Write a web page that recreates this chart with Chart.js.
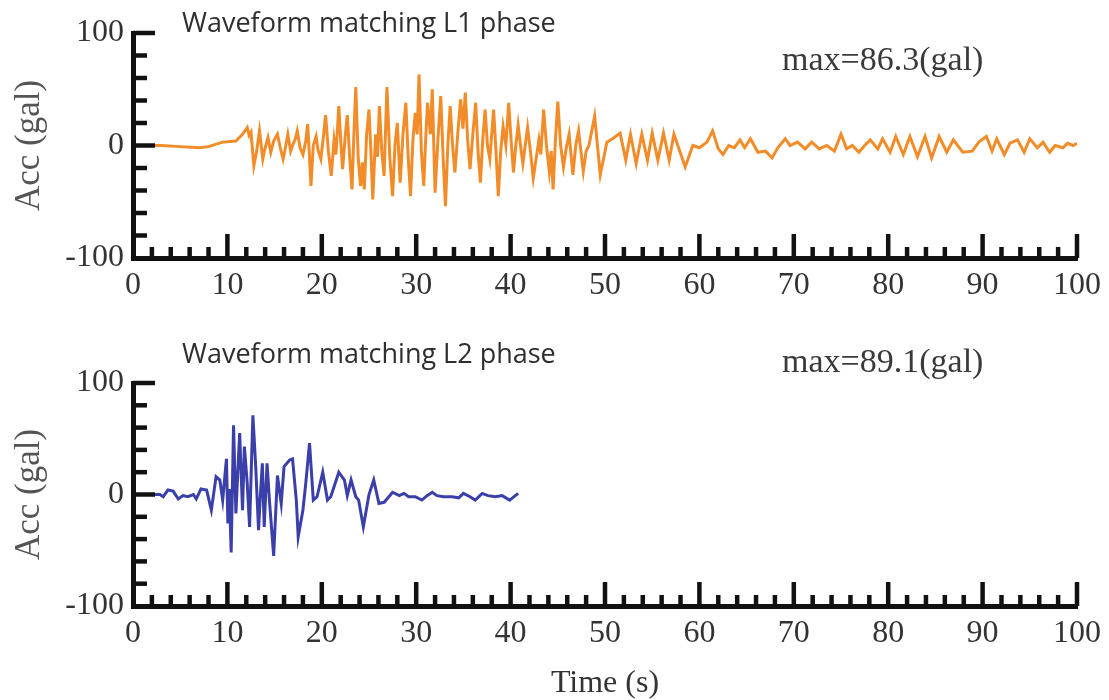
<!DOCTYPE html>
<html>
<head>
<meta charset="utf-8">
<script src="https://cdn.jsdelivr.net/npm/chart.js@4.4.1/dist/chart.umd.min.js"></script>
<style>
  body { margin: 0; background: #fff; }
  .panel { position: absolute; left: 0; }
</style>
</head>
<body>
<div class="panel" style="top:0"><canvas id="l1Chart" width="1109" height="330"></canvas></div>
<div class="panel" style="top:330px"><canvas id="l2Chart" width="1109" height="370"></canvas></div>
<script>
// L1 phase record (s, gal)
const l1Time = [0, 3, 5, 7, 8, 9.5, 10.9, 11.6, 12.1, 12.3,
  12.5, 12.8, 13.1, 13.4, 13.75, 14.0, 14.3, 14.6, 14.9, 15.3,
  15.6, 15.9, 16.1, 16.4, 16.7, 16.9, 17.2, 17.4, 17.7, 18.0,
  18.3, 18.5, 18.7, 18.85, 19.1, 19.4, 19.6, 19.9, 20.2, 20.4,
  20.7, 21.0, 21.3, 21.5, 21.8, 22.0, 22.2, 22.5, 22.7, 22.95,
  23.2, 23.4, 23.6, 23.85, 24.1, 24.3, 24.5, 24.75, 25.0, 25.2,
  25.4, 25.7, 25.9, 26.1, 26.35, 26.6, 26.9, 27.2, 27.5, 27.75,
  28.0, 28.3, 28.6, 28.9, 29.15, 29.4, 29.65, 29.9, 30.1, 30.3,
  30.55, 30.8, 31.0, 31.2, 31.5, 31.7, 32.0, 32.3, 32.6, 32.85,
  33.1, 33.35, 33.6, 33.85, 34.1, 34.4, 34.7, 34.95, 35.2, 35.45,
  35.7, 36.0, 36.3, 36.55, 36.8, 37.05, 37.3, 37.55, 37.8, 38.2,
  38.45, 38.7, 38.95, 39.2, 39.5, 39.8, 40.05, 40.3, 40.55, 40.8,
  41.05, 41.3, 41.8, 42.1, 42.4, 43.0, 43.2, 43.5, 43.8, 44.1,
  44.3, 44.5, 44.75, 45.0, 45.3, 45.6, 45.9, 46.2, 46.6, 46.9,
  47.2, 47.7, 48.0, 48.3, 48.9, 49.2, 49.5, 50.2, 50.8, 51.6,
  52.2, 52.7, 53.3, 53.9, 54.5, 55.0, 55.6, 56.2, 56.8, 57.3,
  58.5, 59.3, 60.0, 60.8, 61.4, 62.0, 62.5, 63.1, 63.7, 64.3,
  64.8, 65.4, 66.2, 67.0, 67.7, 68.3, 69.1, 69.6, 70.4, 71.2,
  71.9, 72.7, 73.5, 74.3, 75.0, 75.6, 76.2, 76.9, 77.5, 78.1,
  78.9, 79.4, 80.2, 80.8, 81.6, 82.3, 83.1, 83.9, 84.6, 85.4,
  86.2, 86.9, 87.9, 88.9, 89.6, 90.4, 91.0, 91.5, 92.3, 92.9,
  93.7, 94.4, 95.0, 95.8, 96.4, 97.1, 97.7, 98.5, 99.0, 99.6,
  100];
const l1Acc = [0, 0, -1, -2, -1, 3, 4, 10, 16, 9,
  12, -18, -5, 13, -12, -2, 7, -6, 4, 10,
  -2, -12, -4, 10, -5, 0, 6, 13, -2, -8,
  4, 19, -10, -36, 0, 8, -4, -12, 10, 27,
  -5, -27, 5, -8, 35, 5, -21, 10, 27, -10,
  -39, 10, 52, -10, -36, -15, -39, 10, 32, -5,
  -48, 10, -10, 35, -5, -27, 52, -10, -45, 0,
  20, -33, 10, 38, -10, -45, 5, 29, 10, 63,
  -5, -36, 5, 38, 10, 50, -42, 5, 44, -10,
  -54, 0, 35, 0, -24, 10, 41, 15, 47, 5,
  -21, 10, 38, -5, -33, 5, 32, 0, -12, 32,
  -5, -45, -5, 17, 0, 38, 5, -24, 0, 18,
  0, -16, 16, -5, -29, 5, -8, 32, 0, -23,
  -5, -39, 5, 39, 0, -19, -2, 10, -26, 0,
  13, -23, -5, 0, 26, 0, -26, 3, 6, 11,
  -13, 10, -16, 10, -13, 11, -13, 11, -13, 10,
  -19, 0, -2, 3, 13, -3, -8, 0, -2, 5,
  -2, 6, -6, -5, -11, -2, 6, 0, 3, -3,
  3, -3, 0, -5, 10, -3, 0, -6, 0, 5,
  -3, 6, -6, 8, -8, 8, -10, 8, -11, 8,
  -6, 5, -6, -5, 3, 8, -5, 6, -8, 2,
  5, -6, 6, -2, 3, -6, 0, -2, 2, 0,
  2];

// L2 phase record (s, gal)
const l2Time = [0, 2.85, 3.2, 3.7, 4.25, 4.8, 5.3, 5.8, 6.4, 6.7,
  7.2, 7.8, 8.3, 8.8, 9.2, 9.5, 9.9, 10.05, 10.2, 10.4,
  10.65, 10.9, 11.1, 11.3, 11.6, 11.8, 12.1, 12.35, 12.7, 13.0,
  13.3, 13.5, 13.7, 13.9, 14.2, 14.45, 14.9, 15.3, 15.7, 16.0,
  16.6, 16.9, 17.3, 17.5, 18.0, 18.3, 18.7, 19.1, 19.5, 20.1,
  20.6, 20.95, 21.8, 22.4, 22.7, 23.1, 23.6, 23.9, 24.4, 25.0,
  25.5, 26.05, 26.6, 26.9, 27.5, 28.2, 28.7, 29.2, 29.9, 30.6,
  31.15, 31.7, 32.2, 32.9, 33.8, 34.5, 35.0, 35.7, 36.25, 37.0,
  37.6, 38.4, 39.1, 39.9, 40.5, 40.8];
const l2Acc = [0, 0, -2, 4, 3, -4, -1, -2, 0, -4,
  5, 4, -14, 16, 13, -5, 32, -26, 5, -52,
  62, -17, 20, 55, -14, 43, 10, -29, 71, 25,
  -32, 0, 28, -29, 28, -5, -55, 17, -8, 25,
  31, 32, -5, -38, -14, 10, 46, -5, -2, 20,
  -5, -2, 20, 13, -1, 13, -2, -5, -29, 0,
  13, -8, -7, -4, 2, -1, 1, -2, -2, -5,
  -1, 2, -1, -2, -2, -3, 1, -2, -5, 1,
  -1, -2, -1, -5, -1, 1];

const yLabels = [100, 0, -100];
const xLabelStep = 10;

const serif = '"Liberation Serif", "Times New Roman", serif';

// tick marks drawn inward from the axes, plus the panel captions
const axisMarks = {
  id: "axisMarks",
  afterDraw(chart, args, opts) {
    const { ctx, chartArea } = chart;
    const x = chart.scales.x;
    const y = chart.scales.y;
    ctx.save();
    ctx.strokeStyle = "#111";
    ctx.lineWidth = 4.5;
    y.ticks.forEach((t) => {
      if (t.value === -100) return;
      const py = y.getPixelForValue(t.value);
      const len = t.value === 100 || t.value === 0 ? 22 : 14;
      ctx.beginPath();
      ctx.moveTo(chartArea.left, py);
      ctx.lineTo(chartArea.left + len, py);
      ctx.stroke();
    });
    x.ticks.forEach((t) => {
      if (t.value === 0) return;
      const px = x.getPixelForValue(t.value);
      const len = t.value % xLabelStep === 0 ? 24 : 11;
      ctx.beginPath();
      ctx.moveTo(px, chartArea.bottom);
      ctx.lineTo(px, chartArea.bottom - len);
      ctx.stroke();
    });
    ctx.fillStyle = "#2e2e2e";
    ctx.textBaseline = "middle";
    ctx.textAlign = "left";
    ctx.font = '27px "Open Sans", "Noto Sans", sans-serif';
    ctx.fillText(opts.title, 182, opts.titleY);
    ctx.fillStyle = "#3a3a3a";
    ctx.font = "34px " + serif;
    ctx.fillText(opts.note, 782, opts.noteY);
    ctx.restore();
  },
};

function makeChart(id, times, values, color, opts) {
  new Chart(document.getElementById(id), {
    type: "line",
    data: {
      datasets: [
        {
          data: times.map((t, i) => ({ x: t, y: values[i] })),
          borderColor: color,
          borderWidth: 3,
          pointRadius: 0,
          tension: 0,
        },
      ],
    },
    options: {
      responsive: false,
      animation: false,
      devicePixelRatio: 1,
      layout: { padding: { top: opts.top, right: 28, left: 0, bottom: 0 } },
      plugins: {
        legend: { display: false },
        tooltip: { enabled: false },
        axisMarks: { title: opts.title, titleY: opts.titleY, note: opts.note, noteY: opts.noteY },
      },
      scales: {
        x: {
          type: "linear",
          min: 0,
          max: 100,
          afterFit: (s) => { s.height = opts.xHeight; },
          border: { display: true, width: 5, color: "#111" },
          grid: { drawOnChartArea: false, drawTicks: false },
          ticks: {
            stepSize: 2,
            autoSkip: false,
            maxRotation: 0,
            padding: 8,
            color: "#333",
            font: { family: serif, size: 32 },
            callback: (v) => (v % xLabelStep === 0 ? v : ""),
          },
          title: {
            display: opts.showTime,
            text: "Time (s)",
            color: "#333",
            font: { family: serif, size: 32, lineHeight: 1 },
            padding: 0,
          },
        },
        y: {
          min: -100,
          max: 100,
          afterFit: (s) => { s.width = 133; },
          border: { display: true, width: 5, color: "#111" },
          grid: { drawOnChartArea: false, drawTicks: false },
          ticks: {
            stepSize: 20,
            autoSkip: false,
            padding: 9,
            color: "#333",
            font: { family: serif, size: 32 },
            callback: (v) => (yLabels.includes(v) ? v : ""),
          },
          title: {
            display: true,
            text: "Acc (gal)",
            color: "#555",
            font: { family: serif, size: 35 },
            padding: { top: 9, bottom: 0 },
          },
        },
      },
    },
    plugins: [axisMarks],
  });
}

makeChart("l1Chart", l1Time, l1Acc, "#F28C28", {
  top: 33, xHeight: 72, showTime: false,
  title: "Waveform matching L1 phase", titleY: 24,
  note: "max=86.3(gal)", noteY: 61,
});

makeChart("l2Chart", l2Time, l2Acc, "#3A3FAA", {
  top: 53, xHeight: 94, showTime: true,
  title: "Waveform matching L2 phase", titleY: 25,
  note: "max=89.1(gal)", noteY: 33,
});
</script>
</body>
</html>
